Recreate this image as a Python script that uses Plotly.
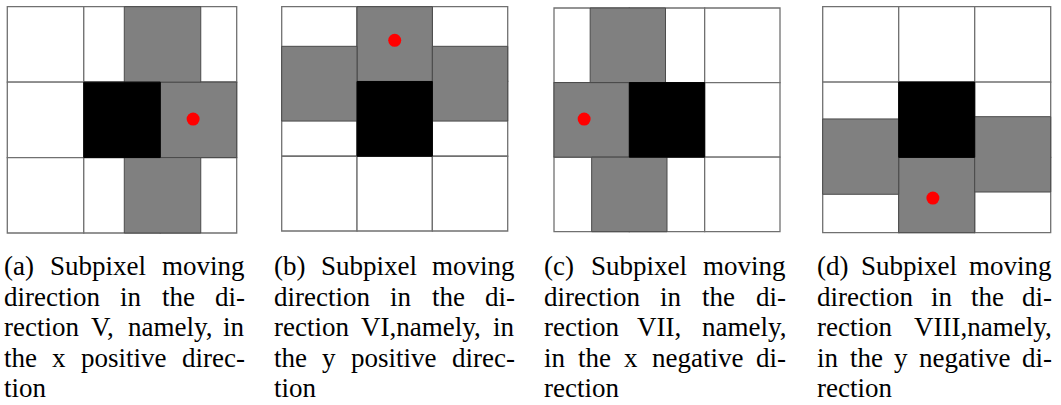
import plotly.graph_objects as go

# ---------------- data ----------------
panel_names = ["a", "b", "c", "d"]
# black (centre) pixel: column, row (row counted from the top)
black_cells = [(1, 1), (1, 1), (1, 1), (1, 1)]
# grey (sub)pixels: top-left corner in cell units (x, y from the top)
gray_cells = [
    [(2, 1), (1.53, 0), (1.53, 2)],
    [(1, 0), (0, 0.53), (2, 0.53)],
    [(0, 1), (0.48, 0), (0.5, 2)],
    [(1, 2), (0, 1.49), (2, 1.46)],
]
# red dot positions (cell units)
red_x = [2.43, 1.50, 0.40, 1.45]
red_y = [1.49, 0.45, 1.49, 2.54]

captions = [
    ["(a) Subpixel moving", "direction in the di-", "rection V, namely, in", "the x positive direc-", "tion"],
    ["(b) Subpixel moving", "direction in the di-", "rection VI,namely, in", "the y positive direc-", "tion"],
    ["(c) Subpixel moving", "direction in the di-", "rection VII, namely,", "in the x negative di-", "rection"],
    ["(d) Subpixel moving", "direction in the di-", "rection VIII,namely,", "in the y negative di-", "rection"],
]

# ---------------- layout helpers ----------------
W, H = 1061, 405
# grid pixel boxes: left, right, top, bottom
grid_box = [(7.3, 236.7, 6.7, 233.0), (281.7, 507.7, 6.7, 231.0),
            (554.0, 780.0, 8.0, 231.7), (822.7, 1050.7, 6.7, 232.7)]
cap_box = [(4, 245), (274, 515), (544, 786), (817, 1052)]
FS = 27
FONT = "Liberation Serif"
base0, lstep = 275, 30.5

tw = {'a': 444, 'b': 500, 'c': 444, 'd': 500, 'e': 444, 'f': 333, 'g': 500, 'h': 500, 'i': 278,
      'l': 278, 'm': 778, 'n': 500, 'o': 500, 'p': 500, 'r': 333, 's': 389, 't': 278, 'u': 500,
      'v': 500, 'x': 500, 'y': 500, 'S': 556, 'V': 722, 'I': 333, ',': 250, '-': 333, '(': 333,
      ')': 333}


def wwidth(word):
    return sum(tw.get(ch, 500) for ch in word) * FS / 1000.0


fig = go.Figure()
shapes = []
annotations = []
N = 3
pad = 0.05
grid_col = "#707070"

for k in range(4):
    L, R, T, B = grid_box[k]
    cw, ch = (R - L) / N, (B - T) / N
    ax = "" if k == 0 else str(k + 1)
    xref, yref = "x" + ax, "y" + ax
    fig.update_layout(**{
        "xaxis" + ax: dict(domain=[(L - pad * cw) / W, (R + pad * cw) / W], range=[-pad, N + pad],
                           visible=False, fixedrange=True, anchor=yref),
        "yaxis" + ax: dict(domain=[1 - (B + pad * ch) / H, 1 - (T - pad * ch) / H], range=[N + pad, -pad],
                           visible=False, fixedrange=True, anchor=xref),
    })
    # white grid
    for i in range(N):
        for j in range(N):
            shapes.append(dict(type="rect", xref=xref, yref=yref, x0=i, x1=i + 1, y0=j, y1=j + 1,
                               layer="below", fillcolor="white", line=dict(color=grid_col, width=1.3)))
    # grey sub-pixels
    for (gx, gy) in gray_cells[k]:
        shapes.append(dict(type="rect", xref=xref, yref=yref, x0=gx, x1=gx + 1, y0=gy, y1=gy + 1,
                           layer="below", fillcolor="#808080", line=dict(color="#4a4a4a", width=1)))
    bx, by = black_cells[k]
    shapes.append(dict(type="rect", xref=xref, yref=yref, x0=bx, x1=bx + 1, y0=by, y1=by + 1,
                       layer="below", fillcolor="black", line=dict(color="black", width=1)))
    fig.add_trace(go.Scatter(x=[red_x[k]], y=[red_y[k]], xaxis=xref, yaxis=yref, mode="markers",
                             marker=dict(color="#ff0000", size=13, line=dict(width=0)),
                             showlegend=False, hoverinfo="skip", cliponaxis=False))

    # captions (justified by word placement)
    x0, x1 = cap_box[k]
    lines = captions[k]
    for li, line in enumerate(lines):
        yc = 1 - (base0 + li * lstep - 0.32 * FS) / H
        words = line.split(" ")
        last = li == len(lines) - 1
        common = dict(xref="paper", yref="paper", y=yc, yanchor="middle", showarrow=False,
                      font=dict(family=FONT, size=FS, color="black"), borderpad=0, borderwidth=0)
        if last or len(words) == 1:
            annotations.append(dict(text=line, x=x0 / W, xanchor="left", **common))
            continue
        widths = [wwidth(w) for w in words]
        gap = ((x1 - x0) - sum(widths)) / (len(words) - 1)
        pos = x0
        for wi, (w, wd) in enumerate(zip(words, widths)):
            if wi == 0:
                annotations.append(dict(text=w, x=x0 / W, xanchor="left", **common))
            elif wi == len(words) - 1:
                annotations.append(dict(text=w, x=x1 / W, xanchor="right", **common))
            else:
                annotations.append(dict(text=w, x=(pos + wd / 2) / W, xanchor="center", **common))
            pos += wd + gap

fig.update_layout(width=W, height=H, margin=dict(l=0, r=0, t=0, b=0),
                  paper_bgcolor="white", plot_bgcolor="white",
                  shapes=shapes, annotations=annotations, showlegend=False)
fig.write_html("out.html", config={"displayModeBar": False},
               post_script="document.body.style.margin='0';document.body.style.overflow='hidden';")
